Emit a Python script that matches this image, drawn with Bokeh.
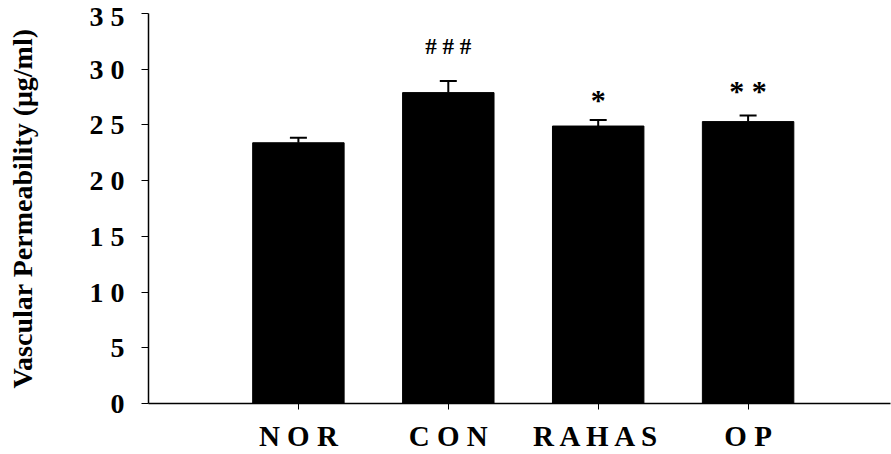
from bokeh.plotting import figure
from bokeh.models import Range1d, FixedTicker, ColumnDataSource, Whisker, TeeHead
from bokeh.embed import file_html
from bokeh.resources import INLINE
from bokeh.core.properties import value

# ---- data ----
categories = ["NOR", "CON", "RAHAS", "OP"]
cat_labels = ["N O R", "C O N", "R A H A S", "O P"]
means = [23.4, 27.9, 24.9, 25.3]
errors = [0.45, 1.05, 0.55, 0.55]
hash_marks = ["# # #"]
hash_cat = ["CON"]
hash_y = [32.0]
star_marks = ["*", "* *"]
star_cat = ["RAHAS", "OP"]
star_y = [27.8, 28.6]
y_ticks = [0, 5, 10, 15, 20, 25, 30, 35]
y_tick_labels = ["0", "5", "1 0", "1 5", "2 0", "2 5", "3 0", "3 5"]
y_title = "Vascular Permeability (\u03bcg/ml)"

xpos = [i + 1 for i in range(len(categories))]
pos = dict(zip(categories, xpos))
tops = [m + e for m, e in zip(means, errors)]

src = ColumnDataSource(dict(x=xpos, cat=categories, mean=means, top=tops))
hsrc = ColumnDataSource(dict(x=[pos[c] for c in hash_cat], y=hash_y, t=hash_marks))
ssrc = ColumnDataSource(dict(x=[pos[c] for c in star_cat], y=star_y, t=star_marks))

SERIF = "Liberation Serif"

p = figure(width=891, height=454, output_backend="svg", toolbar_location=None,
           x_range=Range1d(0, 4.95), y_range=Range1d(0, 35),
           min_border_left=148, min_border_right=1, min_border_top=13, min_border_bottom=50)
p.outline_line_color = None
p.xgrid.visible = False
p.ygrid.visible = False

p.vbar(x="x", top="mean", bottom=0, width=0.61, source=src,
       fill_color="black", line_color="black")

w = Whisker(base="x", lower="mean", upper="top", source=src,
            line_color="black", line_width=2,
            upper_head=TeeHead(size=17, line_color="black", line_width=2),
            lower_head=None)
p.add_layout(w)

p.text(x="x", y="y", text="t", source=hsrc, text_align="center", text_baseline="middle",
       text_font=value(SERIF), text_font_size="23px", text_font_style="bold", text_color="black")
p.text(x="x", y="y", text="t", source=ssrc, text_align="center", text_baseline="middle",
       y_offset=6,
       text_font=value(SERIF), text_font_size="30px", text_font_style="bold", text_color="black")

# y axis
p.yaxis.ticker = FixedTicker(ticks=y_ticks)
p.yaxis.major_label_overrides = {t: l for t, l in zip(y_ticks, y_tick_labels)}
p.yaxis.major_label_text_font = SERIF
p.yaxis.major_label_text_font_style = "bold"
p.yaxis.major_label_text_font_size = "28px"
p.yaxis.major_label_text_color = "black"
p.yaxis.major_tick_out = 7
p.yaxis.major_tick_in = 0
p.yaxis.minor_tick_line_color = None
p.yaxis.axis_line_width = 1.5
p.yaxis.major_label_standoff = 17
p.yaxis.axis_label = y_title
p.yaxis.axis_label_text_font = SERIF
p.yaxis.axis_label_text_font_style = "bold"
p.yaxis.axis_label_text_font_size = "28px"
p.yaxis.axis_label_text_color = "black"
p.yaxis.axis_label_standoff = 49

# x axis
p.xaxis.ticker = FixedTicker(ticks=xpos)
p.xaxis.major_label_overrides = {x: l for x, l in zip(xpos, cat_labels)}
p.xaxis.major_label_text_font = SERIF
p.xaxis.major_label_text_font_style = "bold"
p.xaxis.major_label_text_font_size = "29px"
p.xaxis.major_label_text_color = "black"
p.xaxis.major_tick_out = 6
p.xaxis.major_tick_in = 0
p.xaxis.minor_tick_line_color = None
p.xaxis.axis_line_width = 1.5
p.xaxis.major_label_standoff = 10

open("out.html", "w").write(file_html(p, INLINE))
